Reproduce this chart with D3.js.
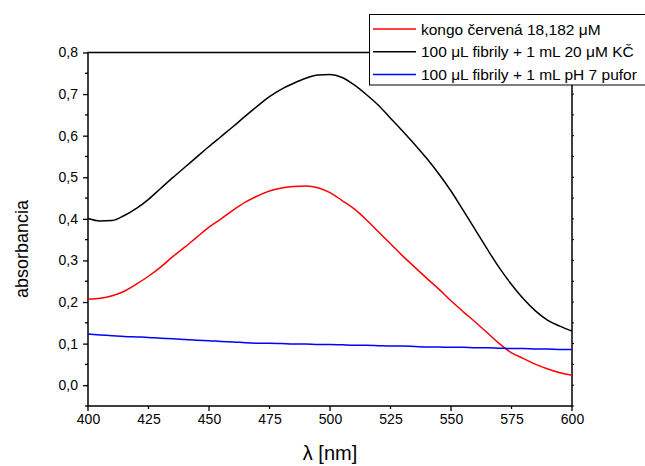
<!DOCTYPE html>
<html>
<head>
<meta charset="utf-8">
<script src="https://cdn.jsdelivr.net/npm/d3@7"></script>
<style>
  body { margin: 0; background: #fff; }
  svg { font-family: "Liberation Sans", Arial, sans-serif; }
</style>
</head>
<body>
<div id="chart"></div>
<script>
// wavelengths (nm)
var wavelengths = [400, 405, 410, 415, 420, 425, 430, 435, 440, 445, 450, 455, 460, 465, 470, 475, 480, 485, 490, 495,
                   500, 505, 510, 515, 520, 525, 530, 535, 540, 545, 550, 555, 560, 565, 570, 575, 580, 585, 590, 595, 600];

// kongo cervena 18,182 uM
var redValues = [0.207, 0.209, 0.215, 0.226, 0.243, 0.262, 0.284, 0.309, 0.332, 0.356, 0.380, 0.400, 0.421, 0.440, 0.455, 0.467, 0.474, 0.478, 0.479, 0.475,
                 0.463, 0.444, 0.424, 0.398, 0.369, 0.340, 0.311, 0.284, 0.257, 0.231, 0.203, 0.177, 0.152, 0.126, 0.100, 0.078, 0.064, 0.050, 0.039, 0.030, 0.024];

// fibrily + KC
var blackValues = [0.401, 0.395, 0.396, 0.408, 0.425, 0.447, 0.473, 0.499, 0.524, 0.549, 0.574, 0.598, 0.622, 0.647, 0.671, 0.694, 0.712, 0.726, 0.738, 0.746,
                   0.747, 0.740, 0.722, 0.699, 0.673, 0.642, 0.611, 0.579, 0.545, 0.508, 0.467, 0.421, 0.374, 0.327, 0.282, 0.242, 0.207, 0.178, 0.156, 0.142, 0.130];

// fibrily + pufor
var blueValues = [0.123, 0.121, 0.119, 0.117, 0.116, 0.115, 0.113, 0.112, 0.110, 0.108, 0.107, 0.105, 0.104, 0.102, 0.101, 0.101, 0.100, 0.099, 0.099, 0.098,
                  0.098, 0.097, 0.096, 0.096, 0.095, 0.094, 0.094, 0.093, 0.092, 0.092, 0.091, 0.091, 0.090, 0.090, 0.089, 0.088, 0.088, 0.087, 0.087, 0.086, 0.086];

var seriesNames = ["kongo červená 18,182 μM", "100 μL fibrily + 1 mL 20 μM KČ", "100 μL fibrily + 1 mL pH 7 pufor"];
var seriesColors = ["#ff0000", "#000000", "#0000ff"];
var xTicks = [400, 425, 450, 475, 500, 525, 550, 575, 600];
var yTicks = [0.0, 0.1, 0.2, 0.3, 0.4, 0.5, 0.6, 0.7, 0.8];

var width = 645, height = 466;
var plotL = 88, plotR = 572, plotT = 52.5, plotB = 406;

var svg = d3.select("#chart").append("svg")
  .attr("width", width)
  .attr("height", height);

var x = d3.scaleLinear().domain([400, 600]).range([plotL, plotR]);
var y = d3.scaleLinear().domain([-0.05, 0.8]).range([plotB, plotT]);

var fmt = function(d) { return d3.format(".1f")(d).replace(".", ","); };

// bottom axis
var xAxis = svg.append("g")
  .attr("transform", "translate(0," + plotB + ")")
  .call(d3.axisBottom(x).tickValues(xTicks).tickSize(0).tickPadding(8).tickFormat(d3.format("d")));
xAxis.select(".domain").remove();
xAxis.selectAll("text").attr("font-size", 14).attr("fill", "#000");
svg.append("g").selectAll("line").data(xTicks).join("line")
  .attr("x1", function(d) { return x(d); }).attr("x2", function(d) { return x(d); })
  .attr("y1", plotB).attr("y2", function(d) { return plotB + (d % 50 === 0 ? 5 : 3); })
  .attr("stroke", "#000").attr("stroke-width", 1.3);

// left axis
var yAxis = svg.append("g")
  .attr("transform", "translate(" + plotL + ",0)")
  .call(d3.axisLeft(y).tickValues(yTicks).tickSize(5).tickPadding(5).tickFormat(fmt));
yAxis.select(".domain").remove();
yAxis.selectAll("line").attr("stroke-width", 1.3);
yAxis.selectAll("text").attr("font-size", 14).attr("fill", "#000");
var yMinor = d3.range(-0.05, 0.8, 0.1);
svg.append("g").selectAll("line").data(yMinor).join("line")
  .attr("x1", plotL - 3).attr("x2", plotL)
  .attr("y1", function(d) { return y(d); }).attr("y2", function(d) { return y(d); })
  .attr("stroke", "#000").attr("stroke-width", 1.3);

// right axis small ticks
svg.append("g").selectAll("line").data(d3.range(-0.05, 0.8, 0.05)).join("line")
  .attr("x1", plotR).attr("x2", plotR + 2)
  .attr("y1", function(d) { return y(d); }).attr("y2", function(d) { return y(d); })
  .attr("stroke", "#000").attr("stroke-width", 1);

// frame
svg.append("rect")
  .attr("x", plotL).attr("y", plotT)
  .attr("width", plotR - plotL).attr("height", plotB - plotT)
  .attr("fill", "none").attr("stroke", "#000").attr("stroke-width", 1.5);

// lines
var allSeries = [redValues, blackValues, blueValues];
var line = d3.line()
  .x(function(d, i) { return x(wavelengths[i]); })
  .y(function(d) { return y(d); })
  .curve(d3.curveMonotoneX);

svg.append("g").selectAll("path").data(allSeries).join("path")
  .attr("d", line)
  .attr("fill", "none")
  .attr("stroke", function(d, i) { return seriesColors[i]; })
  .attr("stroke-width", 1.5);

// axis titles
svg.append("text")
  .attr("x", (plotL + plotR) / 2).attr("y", 460)
  .attr("text-anchor", "middle").attr("font-size", 20)
  .text("λ [nm]");
svg.append("text")
  .attr("transform", "translate(28,249) rotate(-90)")
  .attr("text-anchor", "middle").attr("font-size", 18)
  .text("absorbancia");

// legend
var legend = svg.append("g");
legend.append("rect")
  .attr("x", 369.5).attr("y", 14.5).attr("width", 290).attr("height", 70.5)
  .attr("fill", "#fff").attr("stroke", "#000").attr("stroke-width", 1);
var rows = legend.selectAll("g.row").data(seriesNames).join("g")
  .attr("class", "row")
  .attr("transform", function(d, i) { return "translate(0," + (29 + i * 22.7) + ")"; });
rows.append("line")
  .attr("x1", 373).attr("x2", 416).attr("y1", 0).attr("y2", 0)
  .attr("stroke", function(d, i) { return seriesColors[i]; })
  .attr("stroke-width", 1.5);
rows.append("text")
  .attr("x", 421).attr("y", 5.5)
  .attr("font-size", 15.5)
  .text(function(d) { return d; });
</script>
</body>
</html>
